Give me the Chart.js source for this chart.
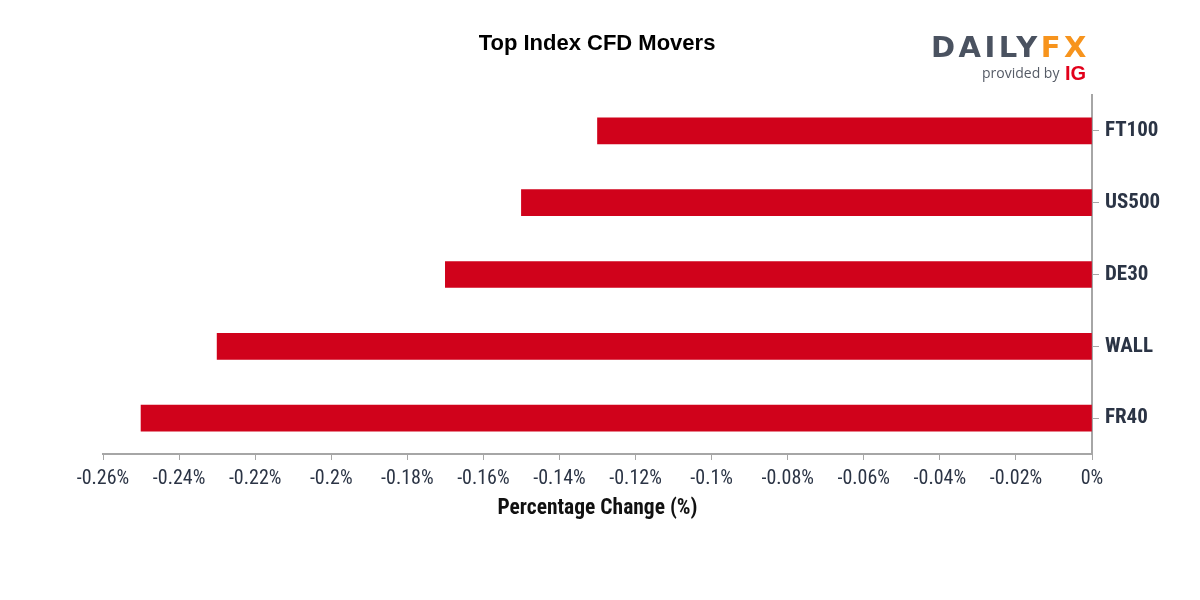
<!DOCTYPE html>
<html>
<head>
<meta charset="utf-8">
<script src="https://cdn.jsdelivr.net/npm/chart.js@4/dist/chart.umd.min.js"></script>
<style>
  html, body { margin: 0; padding: 0; background: #fff; }
  #wrap { width: 1200px; height: 600px; }
</style>
</head>
<body>
<div id="wrap"><canvas id="moversChart" width="1200" height="600"></canvas></div>
<script>
// chart data
const categories = ['FT100', 'US500', 'DE30', 'WALL', 'FR40'];
const changes = [-0.13, -0.15, -0.17, -0.23, -0.25];
const axisMin = -0.26;
const axisMax = 0;
const axisStep = 0.02;

const labelFont = "'Roboto Condensed', 'Liberation Sans Narrow', 'DejaVu Sans Condensed', Roboto, sans-serif";

// title and logo drawn on the canvas
const headerPlugin = {
    id: 'header',
    afterDraw(chart) {
        const ctx = chart.ctx;
        ctx.save();
        ctx.fillStyle = '#000';
        ctx.font = "bold 22px 'Liberation Sans', Arial, sans-serif";
        ctx.textAlign = 'center';
        ctx.textBaseline = 'middle';
        ctx.fillText('Top Index CFD Movers', 597, 44);

        // DailyFX logo
        ctx.textAlign = 'left';
        ctx.textBaseline = 'alphabetic';
        ctx.font = "bold 29px 'DejaVu Sans', sans-serif";
        ctx.letterSpacing = '3.5px';
        ctx.fillStyle = '#4a5260';
        ctx.fillText('DAILY', 931, 57);
        const w = ctx.measureText('DAILY').width;
        ctx.fillStyle = '#f7941d';
        ctx.fillText('FX', 931 + w, 57);
        ctx.letterSpacing = '0px';
        ctx.fillStyle = '#555b66';
        ctx.font = "14px 'Open Sans', sans-serif";
        ctx.fillText('provided by', 982, 78);
        ctx.fillStyle = '#e2001a';
        ctx.font = "bold 20px 'Liberation Sans', sans-serif";
        ctx.fillText('IG', 1065, 80);
        ctx.restore();
    }
};

const ctx = document.getElementById('moversChart').getContext('2d');

const moversChart = new Chart(ctx, {
    type: 'bar',
    data: {
        labels: categories,
        datasets: [
            {
                label: 'Change',
                data: changes,
                backgroundColor: '#d0021b',
                borderWidth: 0,
                barThickness: 26,
            }
        ]
    },
    options: {
        indexAxis: 'y',
        responsive: false,
        animation: false,
        layout: {
            padding: { top: 95, left: 103, right: 0, bottom: 78 }
        },
        plugins: {
            legend: { display: false },
            tooltip: { enabled: false }
        },
        scales: {
            x: {
                type: 'linear',
                min: axisMin,
                max: axisMax,
                afterFit: scale => { scale.height = 68; },
                ticks: {
                    stepSize: axisStep,
                    color: '#2b3445',
                    padding: 7,
                    font: { family: labelFont, size: 20 },
                    callback: v => Number(v.toFixed(2)) + '%'
                },
                grid: {
                    drawOnChartArea: false,
                    drawTicks: true,
                    tickLength: 6,
                    color: '#a6a6a6'
                },
                border: { color: '#a6a6a6', width: 2 },
                title: {
                    display: true,
                    text: 'Percentage Change (%)',
                    color: '#111',
                    font: { family: labelFont, size: 21.5, weight: 'bold' },
                    padding: { top: 2, bottom: 0 }
                }
            },
            y: {
                position: 'right',
                afterFit: scale => { scale.width = 108; },
                ticks: {
                    color: '#2b3445',
                    padding: 6,
                    font: { family: labelFont, size: 21, weight: 'bold' }
                },
                grid: {
                    offset: false,
                    drawOnChartArea: false,
                    drawTicks: true,
                    tickLength: 7,
                    color: '#a6a6a6'
                },
                border: { color: '#a6a6a6', width: 2 }
            }
        }
    },
    plugins: [headerPlugin]
});
</script>
</body>
</html>
